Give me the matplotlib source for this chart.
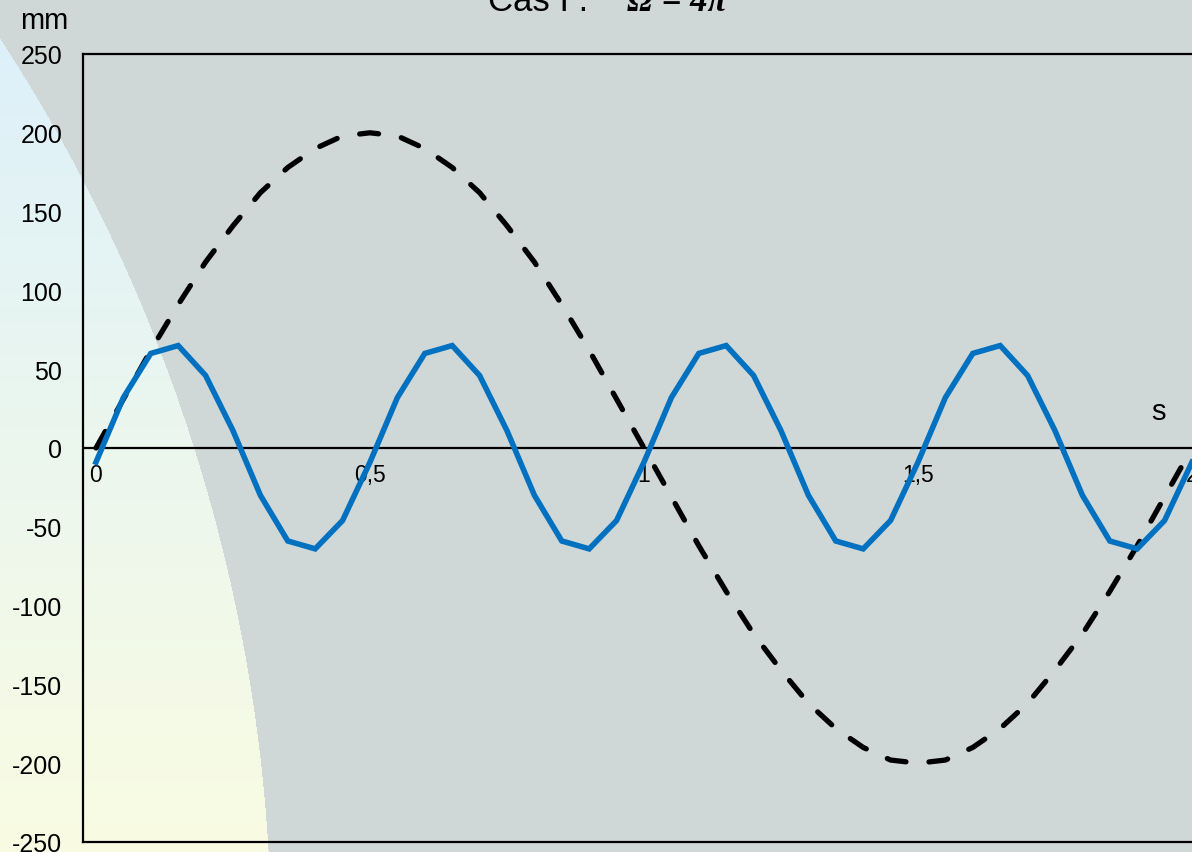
import numpy as np
import matplotlib.pyplot as plt

plt.rcParams['font.family'] = ['Liberation Sans', 'DejaVu Sans']

# time (s)
t = [0.0, 0.05, 0.1, 0.15, 0.2, 0.25, 0.3, 0.35, 0.4, 0.45,
     0.5, 0.55, 0.6, 0.65, 0.7, 0.75, 0.8, 0.85, 0.9, 0.95,
     1.0, 1.05, 1.1, 1.15, 1.2, 1.25, 1.3, 1.35, 1.4, 1.45,
     1.5, 1.55, 1.6, 1.65, 1.7, 1.75, 1.8, 1.85, 1.9, 1.95, 2.0]

# solid blue curve (mm)
y_blue = [-9, 32, 60, 65, 46, 11, -30, -59, -64, -46,
          -9, 32, 60, 65, 46, 11, -30, -59, -64, -46,
          -9, 32, 60, 65, 46, 11, -30, -59, -64, -46,
          -9, 32, 60, 65, 46, 11, -30, -59, -64, -46, -9]

# dashed black curve (mm)
y_black = [0, 31, 62, 91, 118, 141, 162, 178, 190, 198,
           200, 198, 190, 178, 162, 141, 118, 91, 62, 31,
           0, -31, -62, -91, -118, -141, -162, -178, -190, -198,
           -200, -198, -190, -178, -162, -141, -118, -91, -62, -31, 0]

x_ticks = [0, 0.5, 1, 1.5, 2]
x_labels = ['0', '0,5', '1', '1,5', '2']
y_ticks = [-250, -200, -150, -100, -50, 0, 50, 100, 150, 200, 250]

W, H = 1192, 853
fig = plt.figure(figsize=(W / 100, H / 100), dpi=100)

# slide background: grey with a big light gradient disc on the left
yy, xx = np.mgrid[0:H, 0:W]
grey = np.array([207, 216, 214]) / 255
top = np.array([220, 240, 251]) / 255
bot = np.array([249, 252, 226]) / 255
frac = (yy / H)[..., None]
grad = top * (1 - frac) + bot * frac
inside = ((xx + 1393) ** 2 + (yy - 950) ** 2) < 1664 ** 2
img = np.where(inside[..., None], grad, grey)
bg = fig.add_axes([0, 0, 1, 1], zorder=-10)
bg.imshow(img, aspect='auto', interpolation='bilinear')
bg.axis('off')

x0, x1 = -0.0237, 2.1
ax = fig.add_axes([83 / W, 10 / H, (x1 - x0) * 548 / W, 788 / H])
ax.set_facecolor('none')
ax.set_xlim(x0, x1)
ax.set_ylim(-250, 250)

ax.plot(t, y_black, color='black', lw=3.8, linestyle=(0, (3.6, 4.4)),
        dash_capstyle='round', zorder=3)
ax.plot(t, y_blue, color='#0070C0', lw=4.0, solid_joinstyle='miter', zorder=4)
ax.axhline(0, color='black', lw=1.6, zorder=2)

for s in ax.spines.values():
    s.set_linewidth(1.6)
    s.set_color('black')

ax.set_xticks([])
ax.set_yticks(y_ticks)
ax.set_yticklabels([str(v) for v in y_ticks], fontsize=18)
ax.tick_params(axis='y', length=0, pad=15)

for xv, lab in zip(x_ticks, x_labels):
    ax.text(xv, -17, lab, ha='center', va='center', fontsize=16.5)

fig.text(44 / W, 1 - 21 / H, 'mm', ha='center', va='center', fontsize=21)
fig.text(1158 / W, 1 - 412 / H, 's', ha='center', va='center', fontsize=21)

fig.text(488 / W, 1 - 11 / H, 'Cas I :', ha='left', va='baseline', fontsize=25)
fig.text(627 / W, 1 - 11 / H, 'Ω = 4π', ha='left', va='baseline', fontsize=25,
         family=['Liberation Serif', 'DejaVu Serif'], weight='bold', style='italic')

fig.savefig('out.png', dpi=100)
